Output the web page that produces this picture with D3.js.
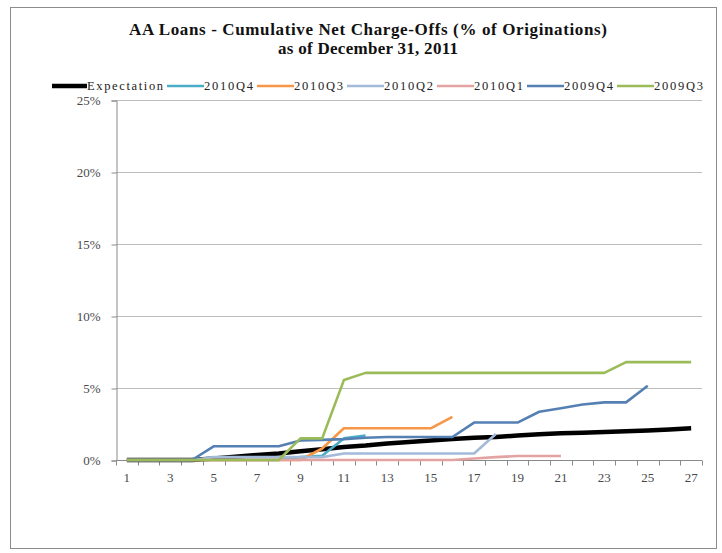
<!DOCTYPE html>
<html>
<head>
<meta charset="utf-8">
<script src="https://cdn.jsdelivr.net/npm/d3@7"></script>
<style>
  body { margin: 0; background: #fff; }
  text { font-family: "Liberation Serif", "Times New Roman", serif; }
</style>
</head>
<body>
<svg id="chart" width="722" height="553"></svg>
<script>
// Months since origination (x categories) and percentage gridlines
const months = d3.range(1, 28);
const xTickLabels = months.filter(m => m % 2 === 1);
const yTicks = [0, 5, 10, 15, 20, 25];

// Cumulative net charge-offs, % of originations, by vintage
const expectation = [0, 0, 0, 0, 0.1, 0.22, 0.35, 0.45, 0.6, 0.75, 0.9, 1.0, 1.15, 1.25, 1.35, 1.45, 1.55, 1.6, 1.7, 1.78, 1.85, 1.9, 1.95, 2.0, 2.05, 2.12, 2.2];
const v2010Q4 = [0, 0, 0, 0, 0, 0, 0, 0, 0.2, 0.3, 1.5, 1.7];
const v2010Q3 = [0, 0, 0, 0, 0, 0, 0, 0, 0, 0.8, 2.2, 2.2, 2.2, 2.2, 2.2, 3.0];
const v2010Q2 = [0, 0, 0, 0, 0.2, 0.2, 0.2, 0.2, 0.2, 0.2, 0.45, 0.45, 0.45, 0.45, 0.45, 0.45, 0.45, 1.8];
const v2010Q1 = [0, 0, 0, 0, 0, 0, 0, 0, 0, 0, 0, 0, 0, 0, 0, 0, 0.1, 0.2, 0.28, 0.28, 0.28];
const v2009Q4 = [0, 0, 0, 0, 0.95, 0.95, 0.95, 0.95, 1.35, 1.4, 1.45, 1.55, 1.6, 1.6, 1.6, 1.6, 2.6, 2.6, 2.6, 3.35, 3.6, 3.85, 4.0, 4.0, 5.15];
const v2009Q3 = [0, 0, 0, 0, 0, 0, 0, 0, 1.5, 1.5, 5.55, 6.05, 6.05, 6.05, 6.05, 6.05, 6.05, 6.05, 6.05, 6.05, 6.05, 6.05, 6.05, 6.8, 6.8, 6.8, 6.8];

const seriesNames = ["Expectation", "2010Q4", "2010Q3", "2010Q2", "2010Q1", "2009Q4", "2009Q3"];
const seriesValues = [expectation, v2010Q4, v2010Q3, v2010Q2, v2010Q1, v2009Q4, v2009Q3];
const seriesColors = ["#000000", "#4BACC6", "#F79646", "#A3BAD8", "#E3A3A2", "#5580B4", "#9BBB59"];
const seriesWidths = [4.5, 2.6, 2.6, 2.6, 2.6, 2.6, 2.6];

const series = seriesNames.map((name, i) => ({
  name, values: seriesValues[i], color: seriesColors[i], width: seriesWidths[i]
}));

const svg = d3.select("#chart");
const plot = { left: 116, right: 702, top: 100, bottom: 460 };

// Outer chart frame
svg.append("rect")
  .attr("x", 10.5).attr("y", 7.5).attr("width", 706).attr("height", 541)
  .attr("fill", "#fff").attr("stroke", "#8c8c8c").attr("stroke-width", 1);

// Title
const title = svg.append("g").attr("font-weight", "bold").attr("fill", "#111")
  .attr("text-anchor", "middle");
title.append("text").attr("x", 368).attr("y", 35).attr("font-size", 17)
  .attr("textLength", 478).attr("lengthAdjust", "spacing")
  .text("AA Loans - Cumulative Net Charge-Offs (% of Originations)");
title.append("text").attr("x", 368).attr("y", 54).attr("font-size", 17)
  .attr("textLength", 180).attr("lengthAdjust", "spacing")
  .text("as of December 31, 2011");

// Scales
const x = d3.scaleBand().domain(months).range([plot.left, plot.right]);
const xc = m => x(m) + x.bandwidth() / 2;
const y = d3.scaleLinear().domain([0, 25]).range([plot.bottom, plot.top]);

// Horizontal gridlines
svg.append("g")
  .selectAll("line").data(yTicks.filter(t => t > 0)).join("line")
  .attr("x1", plot.left).attr("x2", plot.right)
  .attr("y1", d => Math.round(y(d)) + 0.5).attr("y2", d => Math.round(y(d)) + 0.5)
  .attr("stroke", "#bdbdbd").attr("stroke-width", 1.2);

// Y axis
const yAxis = svg.append("g")
  .attr("transform", `translate(${plot.left + 0.5},0.5)`)
  .call(d3.axisLeft(y).tickValues(yTicks).tickFormat(d => d + "%").tickSize(5).tickPadding(11));
yAxis.select(".domain").attr("stroke", "#8a8a8a");
yAxis.selectAll(".tick line").attr("stroke", "#8a8a8a");
yAxis.selectAll("text").attr("font-size", 13).attr("fill", "#4a4a4a")
  .style("font-family", '"Liberation Serif", serif');

// X axis: ticks at category boundaries, labels on odd months
const xAxis = svg.append("g")
  .attr("transform", `translate(0,${plot.bottom + 0.5})`);
xAxis.append("line")
  .attr("x1", plot.left).attr("x2", plot.right)
  .attr("stroke", "#8a8a8a");
xAxis.selectAll("line.tk").data(d3.range(0, months.length + 1)).join("line")
  .attr("class", "tk")
  .attr("x1", i => Math.round(plot.left + i * x.step()) + 0.5)
  .attr("x2", i => Math.round(plot.left + i * x.step()) + 0.5)
  .attr("y1", 0).attr("y2", 5).attr("stroke", "#8a8a8a");
xAxis.selectAll("text").data(xTickLabels).join("text")
  .attr("x", d => xc(d)).attr("y", 21)
  .attr("text-anchor", "middle").attr("font-size", 13).attr("fill", "#4a4a4a")
  .text(d => d);

// Series lines
const line = d3.line()
  .x((d, i) => xc(months[i]))
  .y(d => y(d));
svg.append("g")
  .selectAll("path").data(series).join("path")
  .attr("d", d => line(d.values))
  .attr("fill", "none")
  .attr("stroke", d => d.color)
  .attr("stroke-width", d => d.width)
  .attr("stroke-linejoin", "round")
  .attr("stroke-linecap", "butt");

// Legend
const legendY = 86;
const legend = svg.append("g");
let lx = 52;
series.forEach((s, i) => {
  const lineLen = i === 0 ? 35 : 37;
  const textLen = i === 0 ? 76 : 49;
  legend.append("line")
    .attr("x1", lx).attr("x2", lx + lineLen)
    .attr("y1", legendY).attr("y2", legendY)
    .attr("stroke", s.color).attr("stroke-width", s.width);
  legend.append("text")
    .attr("x", lx + lineLen).attr("y", legendY + 4)
    .attr("font-size", 12.5).attr("fill", "#222")
    .attr("textLength", textLen).attr("lengthAdjust", "spacing")
    .text(s.name);
  lx += lineLen + textLen + 4;
});
</script>
</body>
</html>
